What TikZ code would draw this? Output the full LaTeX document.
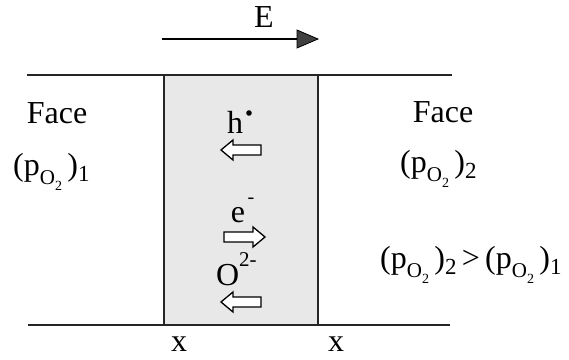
\documentclass[tikz,border=0pt]{standalone}
\usepackage{fontspec}
\setmainfont{Liberation Serif}
\newcommand{\pOx}[1]{(p\raisebox{-0.3em}{\fontsize{21}{23}\selectfont O\raisebox{-0.3em}{\fontsize{14}{16}\selectfont 2}}\,)\raisebox{-0.2em}{\fontsize{23}{25}\selectfont #1}}
\begin{document}
\begin{tikzpicture}[x=1pt,y=-1pt,
  lbl/.style={font=\fontsize{32}{36}\selectfont, inner sep=0pt, anchor=base},
  rail/.style={line width=1.5pt, black!85},
  blockarrow/.style={draw=black, line width=1.3pt, fill=white, line join=miter}]
\useasboundingbox (0,0) rectangle (569,359);
% slab
\fill[black!9] (164,75) rectangle (318,325);
\draw[rail] (164,75) -- (164,325);
\draw[rail] (318,75) -- (318,325);
\coordinate (tl) at (27,75);
\coordinate (tr) at (452,75);
\coordinate (bl) at (28,325);
\coordinate (br) at (450,325);
\draw[rail] (tl) -- (tr);
\draw[rail] (bl) -- (br);
% field arrow
\coordinate (ea) at (162,39);
\coordinate (eb) at (297,39);
\draw[line width=1.1pt] (ea) -- (eb);
\filldraw[fill=black!75, draw=black, line width=0.8pt] (297,30) -- (318,39) -- (297,48) -- cycle;
\node[lbl] (E) at (264,27) {E};
% left side
\node[lbl] (face1) at (57,123) {Face};
\node[lbl, anchor=base west] (p1) at (13,175) {\pOx{1}};
% right side
\node[lbl] (face2) at (443,122) {Face};
\node[lbl, anchor=base west] (p2) at (400,172) {\pOx{2}};
\node[lbl, anchor=base west] (cmp) at (380,268) {\pOx{2}\,>\,\pOx{1}};
% carriers
\node[lbl] (h) at (235,133) {h};
\fill (249,113) circle (2.8);
\node[lbl] (e) at (238,222) {e};
\node[font=\fontsize{20}{22}\selectfont, inner sep=0pt, anchor=base] (em) at (251,203) {-};
\node[lbl, anchor=base west] (O) at (216,285) {O};
\node[font=\fontsize{21}{23}\selectfont, inner sep=0pt, anchor=base west] (Oc) at (239,266) {2-};
% block arrows
\draw[blockarrow] (221,150) -- (233,140) -- (233,145) -- (261,145) -- (261,155) -- (233,155) -- (233,160) -- cycle;
\draw[blockarrow] (265,237) -- (253,227) -- (253,232) -- (224,232) -- (224,242) -- (253,242) -- (253,247) -- cycle;
\draw[blockarrow] (221,302) -- (233,292) -- (233,297) -- (261,297) -- (261,307) -- (233,307) -- (233,312) -- cycle;
% x labels
\node[lbl] (x1) at (179,351) {x};
\node[lbl] (x2) at (336,351) {x};
\end{tikzpicture}
\end{document}
